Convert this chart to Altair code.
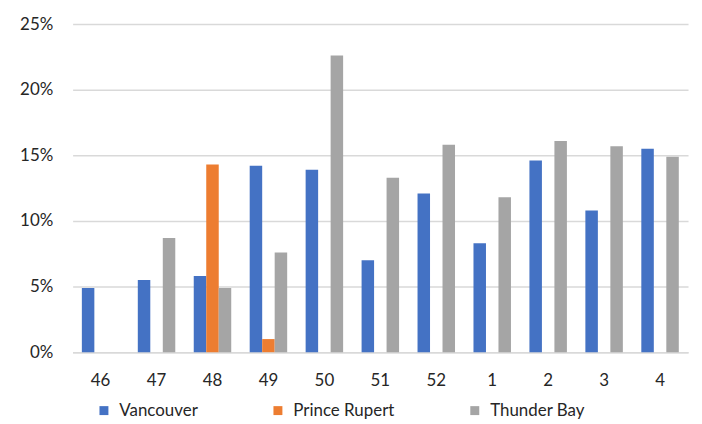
import altair as alt
import pandas as pd

weeks = ["46", "47", "48", "49", "50", "51", "52", "1", "2", "3", "4"]
series = ["Vancouver", "Prince Rupert", "Thunder Bay"]
vancouver = [4.9, 5.5, 5.8, 14.2, 13.9, 7.0, 12.1, 8.3, 14.6, 10.8, 15.5]
prince_rupert = [None, None, 14.3, 1.0, None, None, None, None, None, None, None]
thunder_bay = [None, 8.7, 4.9, 7.6, 22.6, 13.3, 15.8, 11.8, 16.1, 15.7, 14.9]
colors = ["#4472C4", "#ED7D31", "#A5A5A5"]

rows = []
for name, vals in zip(series, [vancouver, prince_rupert, thunder_bay]):
    for w, v in zip(weeks, vals):
        if v is not None:
            rows.append({"week": w, "city": name, "value": v / 100.0})
df = pd.DataFrame(rows)

FONT = "Lato"

chart = (
    alt.Chart(df)
    .mark_bar()
    .encode(
        x=alt.X(
            "week:N",
            sort=weeks,
            scale=alt.Scale(paddingInner=0.33, paddingOuter=0.165),
            axis=alt.Axis(
                title=None,
                labelAngle=0,
                ticks=False,
                domainColor="#d9d9d9",
                domainWidth=1.5,
                labelFontSize=17,
                labelPadding=20,
                labelColor="#262626",
                labelFont=FONT,
            ),
        ),
        xOffset=alt.XOffset("city:N", sort=series),
        y=alt.Y(
            "value:Q",
            scale=alt.Scale(domain=[0, 0.25], nice=False),
            axis=alt.Axis(
                title=None,
                format=".0%",
                values=[0, 0.05, 0.10, 0.15, 0.20, 0.25],
                ticks=False,
                domain=False,
                gridColor="#d9d9d9",
                gridWidth=1.5,
                labelFontSize=17,
                labelPadding=20,
                labelColor="#262626",
                labelFont=FONT,
            ),
        ),
        color=alt.Color(
            "city:N",
            sort=series,
            scale=alt.Scale(domain=series, range=colors),
            legend=alt.Legend(
                title=None,
                orient="none",
                legendX=23,
                legendY=380,
                padding=0,
                direction="horizontal",
                symbolType="square",
                symbolSize=81,
                symbolStrokeWidth=0,
                labelFontSize=17,
                labelFont=FONT,
                labelColor="#262626",
                labelOffset=7,
                columnPadding=72,
            ),
        ),
    )
    .properties(
        width=619,
        height=330,
        autosize=alt.AutoSizeParams(type="none"),
        padding={"left": 65, "top": 15, "right": 6, "bottom": 67},
    )
    .configure_view(stroke=None)
)

chart.save("out.html", embed_options={"renderer": "svg", "actions": False})
